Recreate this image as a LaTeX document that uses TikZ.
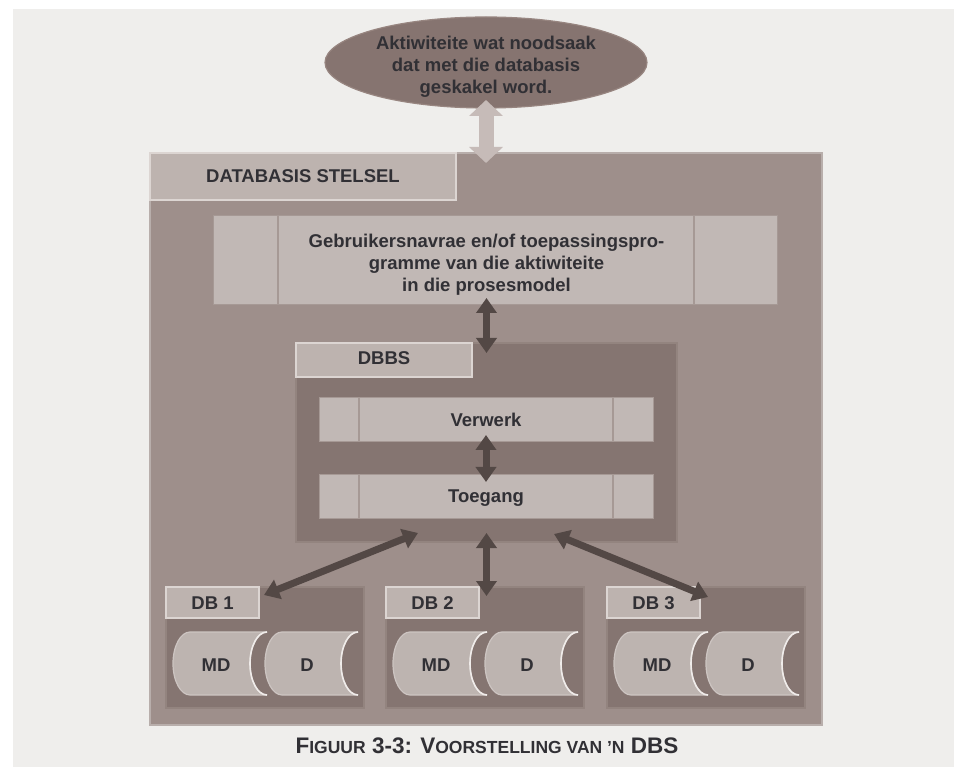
\documentclass[tikz,border=0pt]{standalone}
\usepackage{fontspec}
\setmainfont{Liberation Sans}
\usepackage{graphicx}
\usetikzlibrary{arrows.meta,shapes.geometric,calc}

\definecolor{pagebg}{HTML}{EFEEEC}
\definecolor{sysfill}{HTML}{9E8F8B}
\definecolor{sysedge}{HTML}{B8AEAB}
\definecolor{tabfill}{HTML}{BDB3AF}
\definecolor{tabedge}{HTML}{DCD5D2}
\definecolor{cellfill}{HTML}{C1B8B5}
\definecolor{celledge}{HTML}{A69995}
\definecolor{panelfill}{HTML}{857571}
\definecolor{paneledge}{HTML}{93847F}
\definecolor{ovalfill}{HTML}{867470}
\definecolor{ovaledge}{HTML}{978580}
\definecolor{linkpale}{HTML}{C6BBB8}
\definecolor{linkdark}{HTML}{534845}
\definecolor{ink}{HTML}{313035}
\definecolor{drumfill}{HTML}{BDB4B0}
\definecolor{drumedge}{HTML}{CDC5C2}
\definecolor{drumshine}{HTML}{F0ECEA}

\tikzset{
  lbl/.style={font=\bfseries\fontsize{18.5}{22}\selectfont, text=ink, inner sep=0pt, outer sep=0pt},
  box/.style={rectangle, inner sep=0pt, outer sep=0pt, anchor=north west},
  sysbox/.style={box, fill=sysfill, draw=sysedge, line width=2pt},
  tabbox/.style={box, fill=tabfill, draw=tabedge, line width=1.5pt},
  cellbox/.style={box, fill=cellfill, draw=celledge, line width=1pt},
  panelbox/.style={box, fill=panelfill, draw=paneledge, line width=1.5pt},
  divider/.style={draw=celledge, line width=2pt},
  palelink/.style={draw=linkpale, line width=15pt, >={Triangle[width=33pt,length=16pt]}, <->},
  darklink/.style={draw=linkdark, line width=7pt, >={Triangle[width=20pt,length=15pt]}, <->},
  drum/.style={fill=drumfill, draw=drumedge, line width=1.2pt},
}

% data store drum: convex left end, concave right end
\newcommand\drawdrum[2]{%
  \path[drum] (#1,632) -- (#2,632)
    .. controls ({#2-9.4},632) and ({#2-17},646.1) .. ({#2-17},663.5)
    .. controls ({#2-17},680.9) and ({#2-9.4},695) .. (#2,695)
    -- (#1,695)
    .. controls ({#1-9.4},695) and ({#1-17},680.9) .. ({#1-17},663.5)
    .. controls ({#1-17},646.1) and ({#1-9.4},632) .. (#1,632) -- cycle;
  \draw[drumshine, line width=1.6pt] (#2,632)
    .. controls ({#2-9.4},632) and ({#2-17},646.1) .. ({#2-17},663.5)
    .. controls ({#2-17},680.9) and ({#2-9.4},695) .. (#2,695);
}

\begin{document}
\begin{tikzpicture}[x=1pt,y=-1pt]
\useasboundingbox (0,0) rectangle (954,767);
\fill[white] (0,0) rectangle (954,767);
\fill[pagebg] (13,9) rectangle (954,767);

% activities oval
\node[ellipse, fill=ovalfill, draw=ovaledge, line width=1.2pt, minimum width=322pt,
      minimum height=91pt, inner sep=0pt, outer sep=0pt] (oval) at (486,62.5) {};
\node[lbl, align=center] (ovaltxt) at (486,67) {Aktiwiteite wat noodsaak\\dat met die databasis\\geskakel word.};

% database system frame
\node[sysbox, minimum width=672pt, minimum height=572pt] (sys) at (150,153) {};
\node[tabbox, minimum width=306pt, minimum height=47pt] (systab) at (150,153) {};
\node[lbl, anchor=base] (systxt) at (303,183) {DATABASIS STELSEL};

% user queries / application programs
\node[cellbox, minimum width=564pt, minimum height=89pt] (usr) at (213,216) {};
\draw[divider] ($(usr.north west)+(65,0)$) -- ($(usr.south west)+(65,0)$);
\draw[divider] ($(usr.north east)+(-83,0)$) -- ($(usr.south east)+(-83,0)$);
\node[lbl, align=center] (usrtxt) at (486.5,265) {Gebruikersnavrae en/of toepassingspro-\\gramme van die aktiwiteite\\in die prosesmodel};

% DBMS panel
\node[panelbox, minimum width=381pt, minimum height=199pt] (dbbs) at (296,343) {};
\node[tabbox, minimum width=176pt, minimum height=34pt] (dbbstab) at (296,343) {};
\node[lbl, anchor=base] (dbbstxt) at (384,365) {DBBS};

\node[cellbox, minimum width=334pt, minimum height=44pt] (verw) at (319,398) {};
\draw[divider] ($(verw.north west)+(40,0)$) -- ($(verw.south west)+(40,0)$);
\draw[divider] ($(verw.north east)+(-40,0)$) -- ($(verw.south east)+(-40,0)$);
\node[lbl, anchor=base] (verwtxt) at (486,426.7) {Verwerk};

\node[cellbox, minimum width=334pt, minimum height=44pt] (toeg) at (319,474) {};
\draw[divider] ($(toeg.north west)+(40,0)$) -- ($(toeg.south west)+(40,0)$);
\draw[divider] ($(toeg.north east)+(-40,0)$) -- ($(toeg.south east)+(-40,0)$);
\node[lbl, anchor=base] (toegtxt) at (486,502.7) {Toegang};

% databases
\foreach \L/\n in {166/1, 386/2, 607/3} {
  \node[panelbox, minimum width=198pt, minimum height=121pt] (db\n) at (\L,587) {};
  \node[tabbox, minimum width=93pt, minimum height=31pt] (dbtab\n) at (\L,587) {};
  \node[lbl, anchor=base] (dbtxt\n) at ({\L+46.5},609) {DB \n};
  \drawdrum{\L+24}{\L+101}
  \drawdrum{\L+116}{\L+192}
  \node[lbl, anchor=base] (md\n) at ({\L+50},671) {MD};
  \node[lbl, anchor=base] (d\n) at ({\L+141},671) {D};
}

% connectors
\draw[palelink, shorten <=-8pt, shorten >=-10pt] (oval.south) -- (sys.north);
\draw[darklink, shorten <=-7pt, shorten >=-10pt] (dbbs.north |- usr.south) -- (dbbs.north);
\draw[darklink, shorten <=-7pt, shorten >=-8pt] (verw.south) -- (toeg.north);
\draw[darklink, shorten <=-9pt, shorten >=-9pt] (dbbs.south) -- (dbbs.south |- db2.north);
\coordinate (lnk1a) at ($(dbbs.south west)+(122,-9)$);
\coordinate (lnk1b) at ($(dbtab1.north east)+(5,8)$);
\coordinate (lnk3a) at ($(dbbs.south east)+(-123,-8)$);
\coordinate (lnk3b) at ($(dbtab3.north east)+(8,10)$);
\draw[darklink] (lnk1a) -- (lnk1b);
\draw[darklink] (lnk3a) -- (lnk3b);

% caption
\node[font=\bfseries, text=ink, anchor=base, inner sep=0pt] (caption) at (487,753)
  {\fontsize{22.5}{24}\selectfont F{\fontsize{17.5}{20}\selectfont IGUUR} 3-3: V{\fontsize{17.5}{20}\selectfont OORSTELLING VAN ’N} DBS};
\end{tikzpicture}
\end{document}
